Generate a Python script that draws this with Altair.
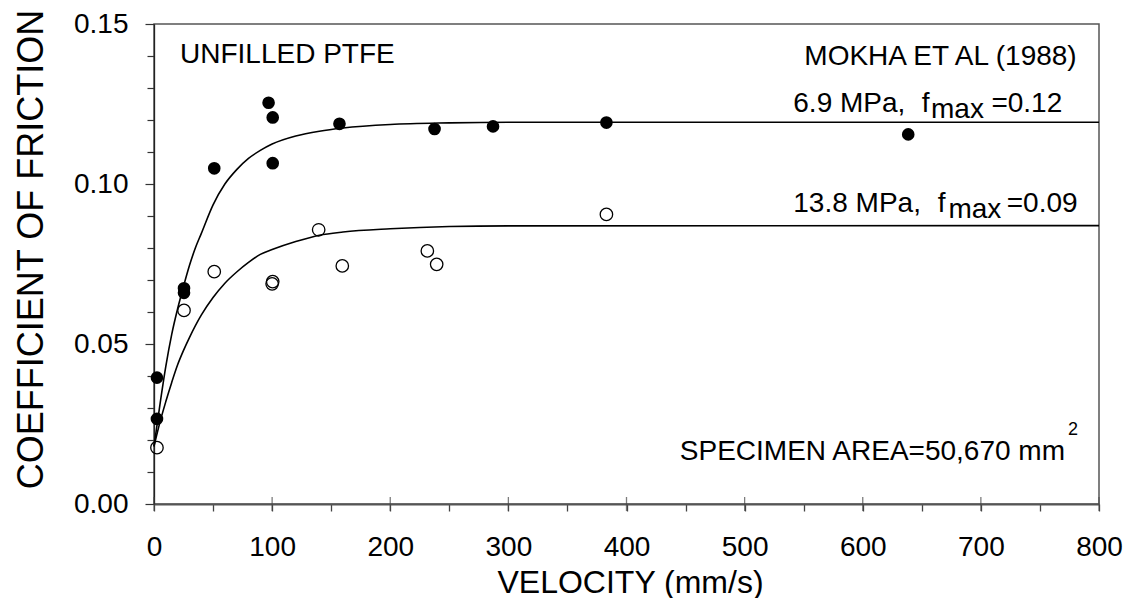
import altair as alt
import pandas as pd

FONT = "Liberation Sans"

# ---- measured data (6.9 MPa = filled, 13.8 MPa = open) ----
filled_v = [2.5, 2.5, 25.4, 25.4, 51.0, 97.0, 100.5, 100.5, 157.0, 237.5, 287.0, 383.0, 638.5]
filled_f = [0.0395, 0.0266, 0.0674, 0.0660, 0.1049, 0.1254, 0.1208, 0.1065, 0.1188, 0.1172, 0.1180, 0.1192, 0.1155]
open_v = [2.5, 25.4, 51.0, 100.5, 100.0, 139.4, 159.4, 231.4, 239.3, 383.0]
open_f = [0.0176, 0.0605, 0.0726, 0.0695, 0.0688, 0.0857, 0.0744, 0.0791, 0.0749, 0.0905]

# ---- fitted curves ----
up_v = [0, 5, 10, 15, 20, 25, 30, 35, 40, 50, 60, 70, 80, 90, 100, 120, 140, 160, 200, 250, 300, 800]
up_f = [0.018, 0.031, 0.043, 0.053, 0.061, 0.068, 0.0745, 0.080, 0.0845, 0.0935, 0.100, 0.1045, 0.108,
        0.1105, 0.1125, 0.115, 0.1165, 0.1175, 0.1186, 0.1191, 0.1193, 0.1193]
lo_v = [0, 5, 10, 15, 20, 25, 30, 40, 50, 60, 70, 80, 90, 100, 120, 140, 160, 200, 250, 300, 800]
lo_f = [0.018, 0.0255, 0.032, 0.038, 0.0435, 0.048, 0.052, 0.059, 0.0645, 0.069, 0.0725, 0.0755, 0.078,
        0.0795, 0.082, 0.084, 0.085, 0.086, 0.0867, 0.0869, 0.087]

# ---- axis tick values ----
x_ticks = list(range(0, 801, 50))
x_major = list(range(0, 801, 100))
y_ticks = [round(i * 0.01, 2) for i in range(0, 16)]

# ---- annotations (data coordinates) ----
left_text = ["UNFILLED PTFE", "6.9 MPa,", "f", "13.8 MPa,", "f"]
left_x = [22.0, 541.2, 649.9, 541.2, 663.5]
left_y = [0.1377, 0.1226, 0.1226, 0.0913, 0.0913]
right_text = ["MOKHA ET AL (1988)", "=0.12", "=0.09", "SPECIMEN AREA=50,670 mm"]
right_x = [781.1, 768.9, 781.9, 771.2]
right_y = [0.1372, 0.1226, 0.0913, 0.01375]
sub_text = ["max", "max"]
sub_x = [657.8, 672.5]
sub_y = [0.1205, 0.0893]
sup_text = ["2"]
sup_x = [773.8]
sup_y = [0.0216]

pts_filled = pd.DataFrame({"v": filled_v, "f": filled_f})
pts_open = pd.DataFrame({"v": open_v, "f": open_f})
curve_up = pd.DataFrame({"v": up_v, "f": up_f})
curve_lo = pd.DataFrame({"v": lo_v, "f": lo_f})
ticks_df = pd.DataFrame({"v": x_major, "f": [0.0] * len(x_major)})
left_df = pd.DataFrame({"v": left_x, "f": left_y, "t": left_text})
right_df = pd.DataFrame({"v": right_x, "f": right_y, "t": right_text})
sub_df = pd.DataFrame({"v": sub_x, "f": sub_y, "t": sub_text})
sup_df = pd.DataFrame({"v": sup_x, "f": sup_y, "t": sup_text})

xscale = alt.Scale(domain=[0, 800], nice=False, zero=False)
yscale = alt.Scale(domain=[0, 0.15], nice=False, zero=False)

x_axis = alt.Axis(
    values=x_ticks,
    labelExpr="datum.value % 100 == 0 ? datum.label : ''",
    format="d",
    labelFont=FONT, labelFontSize=28, labelColor="black", labelPadding=22,
    labelOverlap=False, labelFlush=False,
    tickSize=7, tickColor="#444", tickWidth=1.3,
    domainColor="#555", domainWidth=2,
    grid=False,
    title="VELOCITY (mm/s)", titleFont=FONT, titleFontSize=32, titleFontWeight="normal",
    titleColor="black", titleBaseline="alphabetic", titleX=476, titleY=88,
)
y_axis = alt.Axis(
    values=y_ticks,
    labelExpr="abs(round(datum.value * 100) % 5) == 0 ? format(datum.value, '.2f') : ''",
    labelFont=FONT, labelFontSize=28, labelColor="black", labelPadding=17,
    labelOverlap=False, labelFlush=False,
    tickSize={"condition": {"test": "abs(round(datum.value * 100) % 5) == 0", "value": 9}, "value": 7},
    tickColor="#333", tickWidth=1.2,
    domainColor="#222", domainWidth=1.3,
    grid=False,
    title="COEFFICIENT OF FRICTION", titleFont=FONT, titleFontSize=36, titleFontWeight="normal",
    titleColor="black", titleBaseline="alphabetic", titleAngle=270, titleX=-112, titleY=225,
)

X = alt.X("v:Q", scale=xscale, axis=x_axis)
Y = alt.Y("f:Q", scale=yscale, axis=y_axis)

line_up = alt.Chart(curve_up).mark_line(color="black", strokeWidth=1.6, interpolate="monotone").encode(x=X, y=Y)
line_lo = alt.Chart(curve_lo).mark_line(color="black", strokeWidth=1.6, interpolate="monotone").encode(x=X, y=Y)
p_filled = alt.Chart(pts_filled).mark_point(shape="circle", filled=True, color="black", size=160, opacity=1).encode(x=X, y=Y)
p_open = alt.Chart(pts_open).mark_point(shape="circle", filled=False, color="black", size=155, strokeWidth=1.3, opacity=1).encode(x=X, y=Y)
inner_ticks = alt.Chart(ticks_df).mark_tick(orient="vertical", size=14, thickness=1.3, color="#444").encode(x=X, y=Y)

def txt(df, align, size):
    return alt.Chart(df).mark_text(
        align=align, baseline="alphabetic", font=FONT, fontSize=size, color="black"
    ).encode(x=X, y=Y, text="t:N")

chart = alt.layer(
    line_up, line_lo, inner_ticks, p_open, p_filled,
    txt(left_df, "left", 28), txt(right_df, "right", 28), txt(sub_df, "left", 28), txt(sup_df, "left", 18),
).properties(
    width=945, height=480,
    autosize=alt.AutoSizeParams(type="none"),
    padding={"left": 146, "top": 16, "right": 25, "bottom": 94},
    background="white",
).configure_view(stroke="#555", strokeWidth=1.5).configure_axis(labelOverlap=False)

chart.save("out.html", embed_options={"renderer": "svg", "actions": False})
